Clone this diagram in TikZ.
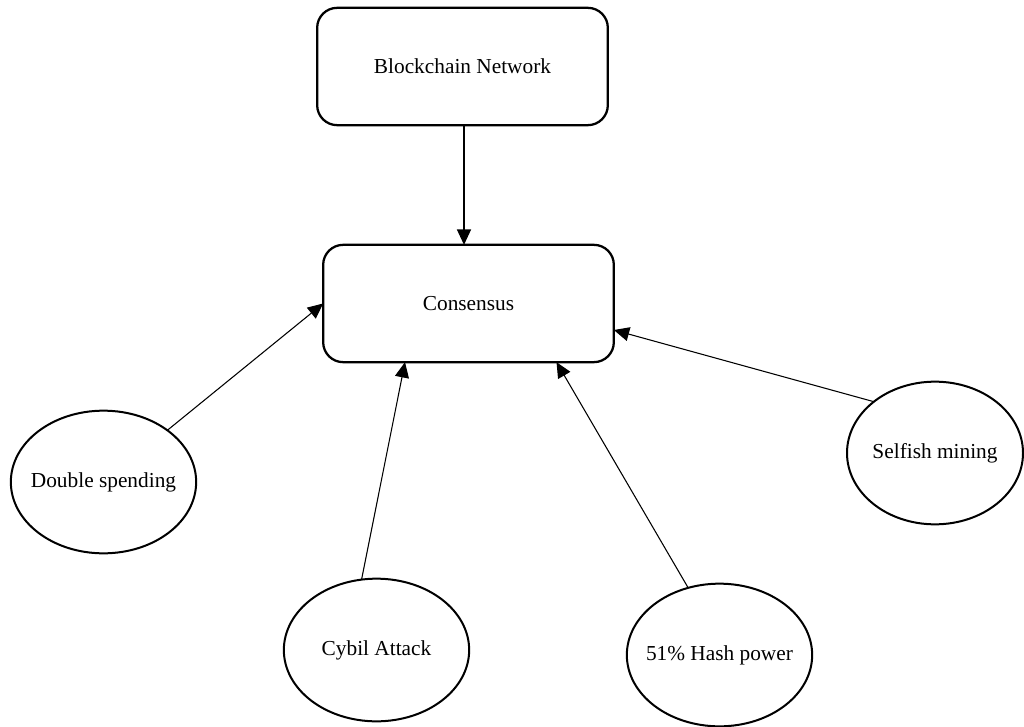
\documentclass[tikz,border=0pt]{standalone}
\usepackage{fontspec}
\setmainfont{Liberation Serif}
\usetikzlibrary{shapes.geometric,arrows.meta,calc}
\begin{document}
\begin{tikzpicture}[x=0.75pt,y=-0.75pt,
  every node/.style={font=\fontsize{16}{19}\selectfont, inner sep=0pt, outer sep=0pt},
  roundbox/.style={draw, line width=1.7pt, rounded corners=15pt,
    minimum width=218pt, minimum height=88pt},
  threat/.style={draw, ellipse, line width=1.5pt,
    minimum width=139pt, minimum height=107pt},
  caption/.style={inner sep=0pt},
  link/.style={line width=0.8pt, -{Triangle[length=11.5pt,width=10.5pt]}}]
  \useasboundingbox (0,0) rectangle (1024,727);

  % boxes
  \node[roundbox] (bc)   at (462.5,66.5) {Blockchain Network};
  \node[roundbox] (cons) at (468.5,303.5) {Consensus};

  % threat ellipses (outline) with their captions set on top
  \node[threat] (ds) at (103.5,482) {};
  \node[threat] (cy) at (376.5,650) {};
  \node[threat] (hp) at (719.5,655) {};
  \node[threat, minimum width=132pt] (sm) at (935,453) {};
  \node[caption] (dsT) at (ds.center) {Double spending};
  \node[caption] (cyT) at (cy.center) {Cybil Attack};
  \node[caption] (hpT) at (hp.center) {51\% Hash power};
  \node[caption] (smT) at (sm.center) {Selfish mining};

  % landing points on the consensus box
  \coordinate (top) at (464,0);
  \coordinate (cyP) at ($(cons.south)+(-63.5,0)$);
  \coordinate (hpP) at ($(cons.south)+(88,0)$);
  \coordinate (smP) at ($(cons.east)+(0,26.5)$);

  % connectors
  \draw[link] (bc.south -| top) -- (cons.north -| top);
  \draw[link] (ds.39.6) -- (cons.west);
  \draw[link] (cy.102.5) -- (cyP);
  \draw[link] (hp.115.5) -- (hpP);
  \draw[link] (sm.140.6) -- (smP);
\end{tikzpicture}
\end{document}
